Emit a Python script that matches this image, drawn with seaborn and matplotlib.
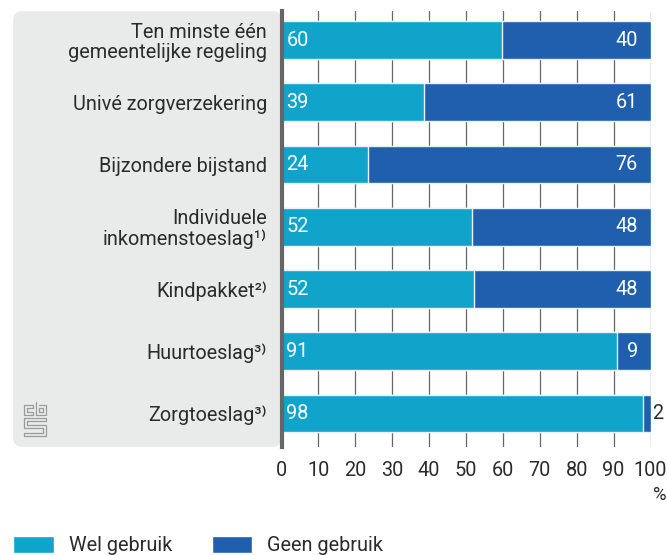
import matplotlib
matplotlib.use('Agg')
import matplotlib.pyplot as plt
from matplotlib.patches import FancyBboxPatch, Patch
import pandas as pd
import seaborn as sns

# Data
categories = ['Ten minste één\ngemeentelijke regeling', 'Univé zorgverzekering', 'Bijzondere bijstand',
              'Individuele\ninkomenstoeslag¹⁾', 'Kindpakket²⁾', 'Huurtoeslag³⁾', 'Zorgtoeslag³⁾']
wel_gebruik = [59.8, 38.7, 23.4, 51.6, 52.2, 90.9, 98.0]
geen_gebruik = [40.2, 61.3, 76.6, 48.4, 47.8, 9.1, 2.0]
wel_labels = [60, 39, 24, 52, 52, 91, 98]
geen_labels = [40, 61, 76, 48, 48, 9, 2]
x_ticks = [0, 10, 20, 30, 40, 50, 60, 70, 80, 90, 100]

WEL_COLOR = '#10a4cb'
GEEN_COLOR = '#1f5fae'
TEXT_COLOR = '#2b2b2b'
W, H = 667, 555
FS = 14.3

sns.set_theme(style='white')
plt.rcParams['font.family'] = ['Roboto', 'Noto Sans', 'DejaVu Sans']
plt.rcParams['font.size'] = FS

df = pd.DataFrame({'categorie': categories, 'wel': wel_gebruik, 'geen': geen_gebruik})
df['totaal'] = df['wel'] + df['geen']

fig = plt.figure(figsize=(W / 100, H / 100), dpi=100)
ax = fig.add_axes([281.5 / W, 1 - 447 / H, 369 / W, 436 / H])

# Grey panel behind the category labels
panel = FancyBboxPatch((18 / W, 1 - 442 / H), 259 / W, 426 / H, transform=fig.transFigure,
                       boxstyle='round,pad=0,rounding_size=0.006', mutation_aspect=W / H,
                       facecolor='#e9ebeb', edgecolor='#e9ebeb', linewidth=7, zorder=-1)
fig.add_artist(panel)

# Stacked bars: total first, wel on top of it
sns.barplot(data=df, y='categorie', x='totaal', color=GEEN_COLOR, saturation=1, width=0.61,
            edgecolor='#e8f2f7', linewidth=1, ax=ax, zorder=3)
sns.barplot(data=df, y='categorie', x='wel', color=WEL_COLOR, saturation=1, width=0.61,
            edgecolor='#e8f2f7', linewidth=1, ax=ax, zorder=4)

for i, (wel, totaal) in enumerate(zip(df['wel'], df['totaal'])):
    ax.annotate(str(wel_labels[i]), (0, i), xytext=(3.5, 0), textcoords='offset points',
                va='center', ha='left', color='white', fontsize=FS, zorder=5)
    if geen_labels[i] < 5:
        ax.annotate(str(geen_labels[i]), (totaal, i), xytext=(1.5, 0), textcoords='offset points',
                    va='center', ha='left', color=TEXT_COLOR, fontsize=FS, zorder=5)
    else:
        ax.annotate(str(geen_labels[i]), (totaal, i), xytext=(-9, 0), textcoords='offset points',
                    va='center', ha='right', color='white', fontsize=FS, zorder=5)

ax.set_xlim(0, 100)
ax.set_ylim(6.538, -0.466)
ax.set_xticks(x_ticks)
ax.set_xlabel('')
ax.set_ylabel('')
ax.patch.set_alpha(0)
ax.grid(axis='x', color='#666666', linewidth=0.9, zorder=1)
ax.grid(axis='y', visible=False)
ax.set_axisbelow(True)
sns.despine(ax=ax, top=True, right=True, bottom=True)
ax.spines['left'].set_color('#666666')
ax.spines['left'].set_linewidth(3)
ax.spines['left'].set_zorder(6)
ax.tick_params(axis='x', length=0, pad=10, labelsize=FS, colors=TEXT_COLOR)
ax.tick_params(axis='y', length=0, pad=10.5, labelsize=FS, colors=TEXT_COLOR)
for lab in ax.get_yticklabels():
    lab.set_multialignment('right')
    lab.set_linespacing(1.05)

fig.text(666 / W, 1 - 495 / H, '%', ha='right', va='center', fontsize=FS - 1, color=TEXT_COLOR)

# Logo drawn as thin grey lines in pixel coordinates
logo_paths = [
    [(24, 415), (24, 405), (33, 405), (33, 408), (27, 408), (27, 412), (33, 412), (33, 415), (24, 415)],
    [(36, 402), (36, 415), (46, 415), (46, 405), (39, 405)],
    [(39, 408), (43, 408), (43, 412), (39, 412), (39, 408)],
    [(24, 418), (46, 418), (46, 421), (27, 421), (27, 425), (46, 425), (46, 436), (24, 436), (24, 433),
     (43, 433), (43, 428), (24, 428), (24, 418)],
]
for path in logo_paths:
    xs = [p[0] / W for p in path]
    ys = [1 - p[1] / H for p in path]
    fig.add_artist(plt.Line2D(xs, ys, color='#9a9c9c', linewidth=0.9, transform=fig.transFigure))

handles = [Patch(facecolor=WEL_COLOR, label='Wel gebruik'), Patch(facecolor=GEEN_COLOR, label='Geen gebruik')]
fig.legend(handles=handles, loc='lower left', bbox_to_anchor=(13 / W, 0 / H), ncol=2, frameon=False,
           fontsize=FS, handlelength=2.05, handleheight=0.95, handletextpad=0.75, columnspacing=2.0,
           borderpad=0, borderaxespad=0, labelcolor=TEXT_COLOR)

fig.savefig('out.png', dpi=100)
